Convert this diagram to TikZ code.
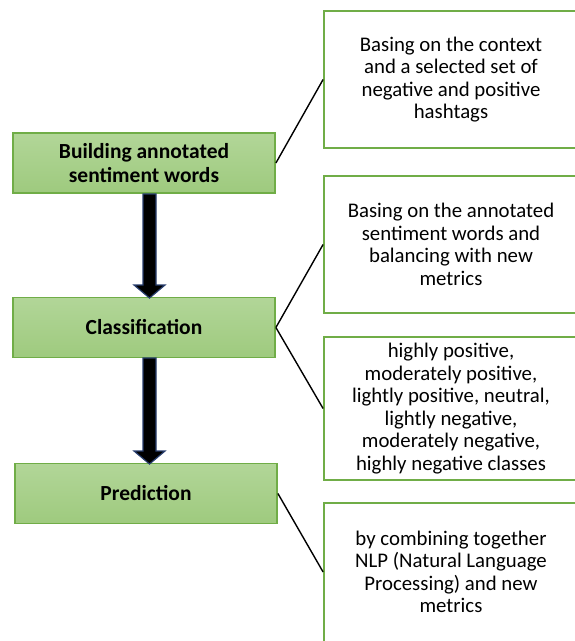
\documentclass[tikz,border=0pt]{standalone}
\usepackage{fontspec}
\setmainfont{Carlito}
\usetikzlibrary{calc}
\definecolor{gborder}{RGB}{112,173,71}
\definecolor{gtop}{RGB}{178,214,152}
\definecolor{gbot}{RGB}{158,202,126}
\definecolor{arrowline}{RGB}{40,62,110}
\tikzset{
  stepbox/.style={draw=gborder, line width=1.8pt, top color=gtop, bottom color=gbot,
    minimum width=262pt, minimum height=60pt, align=center, inner sep=0pt,
    font=\fontsize{21.5}{24}\selectfont\bfseries},
  notebox/.style={draw=gborder, line width=1.8pt, fill=white, minimum width=254pt,
    align=center, inner sep=0pt},
  notetext/.style={align=center, inner sep=0pt, font=\fontsize{20.8}{22.5}\selectfont},
  link/.style={draw=black, line width=1.4pt},
  bigarrow/.style={fill=black, draw=arrowline, line width=1.2pt, line join=miter}
}
\begin{document}
\begin{tikzpicture}[x=1pt,y=-1pt]
\useasboundingbox (0,0) rectangle (574,641);
% left process boxes
\node[stepbox] (b1) at (144,163) {Building annotated\\sentiment words};
\node[stepbox] (b2) at (144,327.5) {Classification};
\node[stepbox] (b3) at (146,493.5) {Prediction};
% right note boxes
\node[notebox, minimum height=137pt] (na) at (451,79.5) {};
\node[notetext] (ta) at (na.center) {Basing on the context\\and a selected set of\\negative and positive\\hashtags};
\node[notebox, minimum height=137pt] (nb) at (451,244.5) {};
\node[notetext] (tb) at (nb.center) {Basing on the annotated\\sentiment words and\\balancing with new\\metrics};
\node[notebox, minimum height=143pt] (nc) at (451,408.5) {};
\node[notetext] (tc) at (nc.center) {highly positive,\\moderately positive,\\lightly positive, neutral,\\lightly negative,\\moderately negative,\\highly negative classes};
\node[notebox, minimum height=170pt] (nd) at (451,588) {};
\node[notetext] (td) at (451,572) {by combining together\\NLP (Natural Language\\Processing) and new\\metrics};
% connectors
\draw[link] (b1.east) -- (na.west);
\draw[link] (b2.east) -- (nb.west);
\draw[link] (b2.east) -- (nc.west);
\draw[link] (b3.east) -- (td -| nd.west);
% flow arrows
\coordinate (a1s) at (149.5,194);
\coordinate (a1e) at (149.5,298);
\coordinate (a2s) at (149.5,358);
\coordinate (a2e) at (149.5,464);
\foreach \s/\e in {a1s/a1e, a2s/a2e}{
  \draw[bigarrow] ($(\s)+(-6.5,0)$) -- ($(\s)+(6.5,0)$) -- ($(\e)+(6.5,-13)$)
    -- ($(\e)+(15.5,-13)$) -- (\e) -- ($(\e)+(-15.5,-13)$) -- ($(\e)+(-6.5,-13)$) -- cycle;
}
\end{tikzpicture}
\end{document}
